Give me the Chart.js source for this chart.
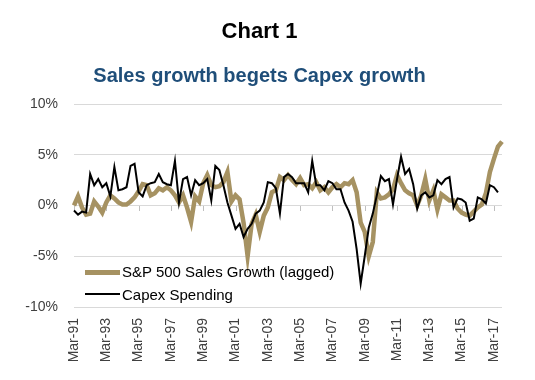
<!DOCTYPE html>
<html>
<head>
<meta charset="utf-8">
<script src="https://cdn.jsdelivr.net/npm/chart.js@4.4.1/dist/chart.umd.min.js"></script>
<style>
body { margin: 0; background: #fff; font-family: "Liberation Sans", Arial, sans-serif; }
#wrap { position: relative; width: 535px; height: 380px; overflow: hidden; }
#chart { position: absolute; left: 0; top: 0; }
.title { position: absolute; left: 0; width: 519px; text-align: center; font-weight: bold; white-space: nowrap; }
#t1 { top: 20px; font-size: 22px; line-height: 22px; color: #000; }
#t2 { top: 65px; font-size: 20px; line-height: 20px; color: #1F4E79; }
.swatch { position: absolute; left: 85px; width: 35px; }
.legtext { position: absolute; left: 122px; font-size: 15px; line-height: 16px; color: #000; white-space: nowrap; }
</style>
</head>
<body>
<div id="wrap">
  <canvas id="chart" width="535" height="380"></canvas>
  <div class="title" id="t1">Chart 1</div>
  <div class="title" id="t2">Sales growth begets Capex growth</div>
  <div class="swatch" style="top:270px;height:5px;background:#A69262"></div>
  <div class="legtext" style="top:264px">S&amp;P 500 Sales Growth (lagged)</div>
  <div class="swatch" style="top:293px;height:2px;background:#000"></div>
  <div class="legtext" style="top:287px">Capex Spending</div>
</div>
<script>
// quarterly, Mar-91 .. Sep-17
const quarterMonths = ['Mar', 'Jun', 'Sep', 'Dec'];
const quarters = [];
for (let yr = 1991; yr <= 2017; yr++) {
    for (const m of quarterMonths) {
        if (yr === 2017 && m === 'Dec') break;
        quarters.push(m + '-' + String(yr).slice(2));
    }
}

// S&P 500 sales growth (lagged), %
const salesGrowth = [
    0, 0.9, -0.2, -0.9, -0.8, 0.4, -0.1, -0.7, 0.3, 1.0,
    0.7, 0.3, 0.1, 0.1, 0.4, 0.8, 1.4, 2.1, 2.0, 1.0,
    1.2, 1.7, 1.5, 1.8, 1.5, 1.0, 0.3, 1.0, -0.2, -1.6,
    0.9, 0.4, 2.2, 3.0, 2.0, 1.8, 1.9, 2.3, 3.3, 0.4,
    1.0, 0.6, -1.7, -5.0, -1.8, -0.9, -2.6, -1.0, -0.2, 1.3,
    1.5, 2.8, 2.5, 3.0, 2.5, 2.1, 2.7, 2.0, 2.1, 1.7,
    2.3, 1.5, 1.8, 1.3, 1.8, 2.1, 1.8, 2.2, 2.1, 2.5,
    1.3, -1.7, -2.6, -5.0, -3.6, 1.3, 0.7, 0.8, 1.1, 1.6,
    3.0, 2.2, 1.5, 1.2, 1.0, 0.0, 1.0, 2.6, 0.5, 1.5,
    -0.4, 1.1, 0.8, 0.5, 0.5, -0.3, -0.7, -0.9, -1.0, -0.6,
    -0.2, 0.1, 1.2, 3.3, 4.6, 5.8, 6.3
];

// Capex spending growth, %
const capexSpending = [
    -0.5, -0.9, -0.6, -0.7, 3.1, 2.0, 2.6, 1.8, 2.2, 0.9,
    3.8, 1.5, 1.6, 1.8, 3.9, 4.1, 1.3, 0.9, 2.0, 2.2,
    2.3, 3.1, 2.3, 2.1, 2.0, 4.4, 0.3, 2.6, 2.8, 1.0,
    2.5, 2.0, 2.2, 2.6, 0.5, 3.9, 3.5, 2.0, 0.3, -1.0,
    -2.3, -1.8, -3.1, -2.3, -1.8, -0.8, -0.5, 0.3, 2.3, 2.2,
    1.7, -0.8, 2.8, 3.1, 2.8, 2.2, 2.2, 2.2, 1.3, 4.4,
    2.0, 2.0, 1.5, 2.4, 2.2, 1.6, 1.6, 0.3, -0.5, -1.6,
    -4.3, -7.7, -5.0, -2.2, -0.8, 1.0, 2.9, 2.4, 2.6, 0.1,
    2.6, 4.8, 3.1, 3.6, 2.1, -0.3, 1.0, 1.3, 0.8, 1.0,
    2.5, 2.1, 2.6, 2.8, -0.2, 0.7, 0.6, 0.3, -1.5, -1.3,
    0.8, 0.6, 0.2, 2.0, 1.8, 1.3, null
];

const yTicks = [-10, -5, 0, 5, 10];

Chart.defaults.font.family = '"Liberation Sans", Arial, sans-serif';

// small tick marks on the 0% line, one every two years
const zeroTicks = {
    id: 'zeroTicks',
    beforeDatasetsDraw(chart) {
        const { ctx, scales: { x, y } } = chart;
        const y0 = Math.round(y.getPixelForValue(0));
        ctx.save();
        ctx.strokeStyle = '#bfbfbf';
        ctx.lineWidth = 1;
        quarters.forEach((q, i) => {
            if (i % 8 !== 0) return;
            const px = Math.round(x.getPixelForValue(i)) + 0.5;
            ctx.beginPath();
            ctx.moveTo(px, y0);
            ctx.lineTo(px, y0 + 5);
            ctx.stroke();
        });
        ctx.restore();
    }
};

const salesCapexChart = new Chart(document.getElementById('chart'), {
    type: 'line',
    data: {
        labels: quarters,
        datasets: [{
            label: 'S&P 500 Sales Growth (lagged)',
            data: salesGrowth,
            borderColor: '#A69262',
            borderWidth: 4.5,
            pointRadius: 0,
            tension: 0,
            order: 2
        }, {
            label: 'Capex Spending',
            data: capexSpending,
            borderColor: '#000000',
            borderWidth: 2,
            pointRadius: 0,
            tension: 0,
            order: 1
        }]
    },
    options: {
        responsive: false,
        animation: false,
        layout: { padding: { top: 104, right: 33, left: 0, bottom: 0 } },
        plugins: {
            legend: { display: false },
            tooltip: { enabled: false }
        },
        scales: {
            x: {
                offset: false,
                grid: { display: false, drawTicks: false },
                border: { display: false },
                ticks: {
                    autoSkip: false,
                    minRotation: 90,
                    maxRotation: 90,
                    padding: 11,
                    color: '#404040',
                    font: { size: 14 },
                    callback: function (v, i) {
                        return i % 8 === 0 ? this.getLabelForValue(v) : null;
                    }
                },
                afterFit: s => { s.height = 73; }
            },
            y: {
                min: -10,
                max: 10,
                afterBuildTicks: s => { s.ticks = yTicks.map(v => ({ value: v })); },
                grid: { color: '#d9d9d9', drawTicks: false },
                border: { display: false },
                ticks: {
                    padding: 16,
                    color: '#404040',
                    font: { size: 14 },
                    callback: v => v + '%'
                },
                afterFit: s => { s.width = 74; }
            }
        }
    },
    plugins: [zeroTicks]
});
</script>
</body>
</html>
